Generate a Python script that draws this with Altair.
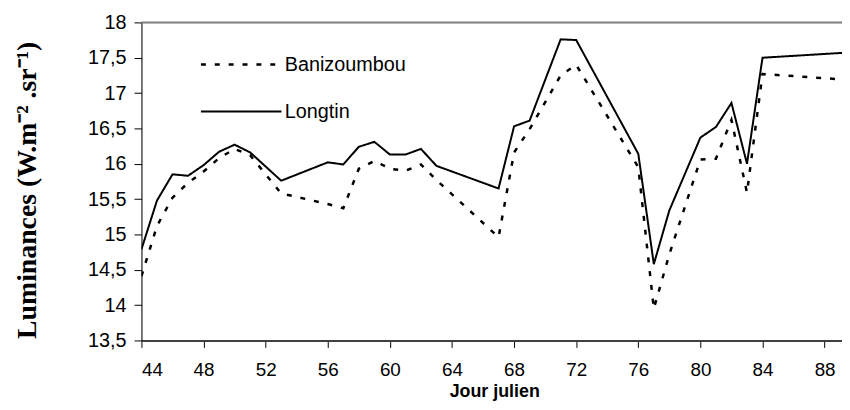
import altair as alt
import pandas as pd

# ---- data ----
days = [44, 45, 46, 47, 48, 49, 50, 51, 53, 56, 57, 58, 59, 60, 61, 62, 63,
        67, 68, 69, 71, 72, 76, 77, 78, 80, 81, 82, 83, 84, 90]
longtin = [14.79, 15.48, 15.85, 15.83, 15.98, 16.17, 16.27, 16.16, 15.76, 16.02,
           15.99, 16.24, 16.31, 16.13, 16.13, 16.21, 15.97, 15.65, 16.53, 16.61,
           17.76, 17.75, 16.14, 14.58, 15.34, 16.37, 16.52, 16.86, 16.00, 17.50, 17.58]
banizoumbou = [14.41, 15.12, 15.52, 15.73, 15.89, 16.08, 16.21, 16.12, 15.58, 15.43,
               15.37, 15.93, 16.04, 15.93, 15.90, 15.99, 15.77, 14.96, 16.16, 16.49,
               17.25, 17.40, 15.95, 13.95, 14.72, 16.06, 16.07, 16.62, 15.59, 17.27, 17.18]
series_names = ["Banizoumbou", "Longtin"]
x_ticks = [44, 48, 52, 56, 60, 64, 68, 72, 76, 80, 84, 88]
y_ticks = [13.5, 14, 14.5, 15, 15.5, 16, 16.5, 17, 17.5, 18]

W, H = 707, 321

df = pd.DataFrame({
    "jour": days + days,
    "lum": banizoumbou + longtin,
    "serie": [series_names[0]] * len(days) + [series_names[1]] * len(days),
})
legend_df = pd.DataFrame({"serie": series_names})

dash = alt.StrokeDash("serie:N", scale=alt.Scale(domain=series_names, range=[[5, 9], [1, 0]]), legend=None)
sw = alt.StrokeWidth("serie:N", scale=alt.Scale(domain=series_names, range=[2.5, 2]), legend=None)

x_enc = alt.X("jour:Q",
              scale=alt.Scale(domain=[44, 89.12], nice=False, zero=False),
              axis=alt.Axis(values=x_ticks, grid=False, title="Jour julien",
                            domainColor="#404040", domainWidth=2,
                            tickColor="#000000", tickSize=7, tickWidth=1,
                            labelFont="Liberation Sans", labelFontSize=19, labelColor="#000000",
                            labelBaseline="alphabetic", labelPadding=28.8,
                            titleFont="Liberation Sans", titleFontSize=18, titleFontWeight="bold",
                            titleColor="#000000", titleX=356, titleY=56.3, titleBaseline="alphabetic",
                            titleAlign="center"))
y_enc = alt.Y("lum:Q",
              scale=alt.Scale(domain=[13.5, 18], nice=False, zero=False),
              axis=alt.Axis(values=y_ticks, grid=False, format="~g",
                            labelExpr="replace(datum.label, '.', ',')",
                            title="Luminances (W.m⁻² .sr⁻¹)",
                            domainColor="#000000", domainWidth=1,
                            tickColor="#000000", tickSize=7.5, tickWidth=1,
                            labelFont="Liberation Sans", labelFontSize=20, labelColor="#000000",
                            labelPadding=8,
                            titleFont="Liberation Serif", titleFontSize=28, titleFontWeight="bold",
                            titleColor="#000000", titleAngle=270, titleX=-114.7, titleY=169,
                            titleAlign="center", titleBaseline="middle"))

lines = alt.Chart(df).mark_line(color="black", clip=True, strokeCap="butt").encode(
    x=x_enc, y=y_enc, strokeDash=dash, strokeWidth=sw, order="jour:Q"
)

top_border = alt.Chart(legend_df.head(1)).mark_rule(color="#808080", strokeWidth=2).encode(
    x=alt.value(0), x2=alt.value(W), y=alt.value(0)
)

leg_y = alt.Y("serie:N", scale=alt.Scale(type="point", domain=series_names, range=[42.6, 90], padding=0), axis=None)

legend_lines = alt.Chart(legend_df).mark_rule(color="black", strokeCap="butt").encode(
    x=alt.value(60), x2=alt.value(141.3), y=leg_y, strokeDash=dash, strokeWidth=sw
)
legend_text = alt.Chart(legend_df).mark_text(
    align="left", baseline="middle", font="Liberation Sans", fontSize=20, color="black"
).encode(x=alt.value(144.6), y=leg_y, text="serie:N")

chart = alt.layer(lines, top_border, legend_lines, legend_text).resolve_scale(
    y="independent"
).properties(
    width=W, height=H,
    padding={"left": 134.7, "top": 12.7, "right": 0, "bottom": 60.3},
    autosize=alt.AutoSizeParams(type="none"),
).configure_view(stroke=None).configure(background="white")

chart.save("out.html", embed_options={"renderer": "svg", "actions": False})
